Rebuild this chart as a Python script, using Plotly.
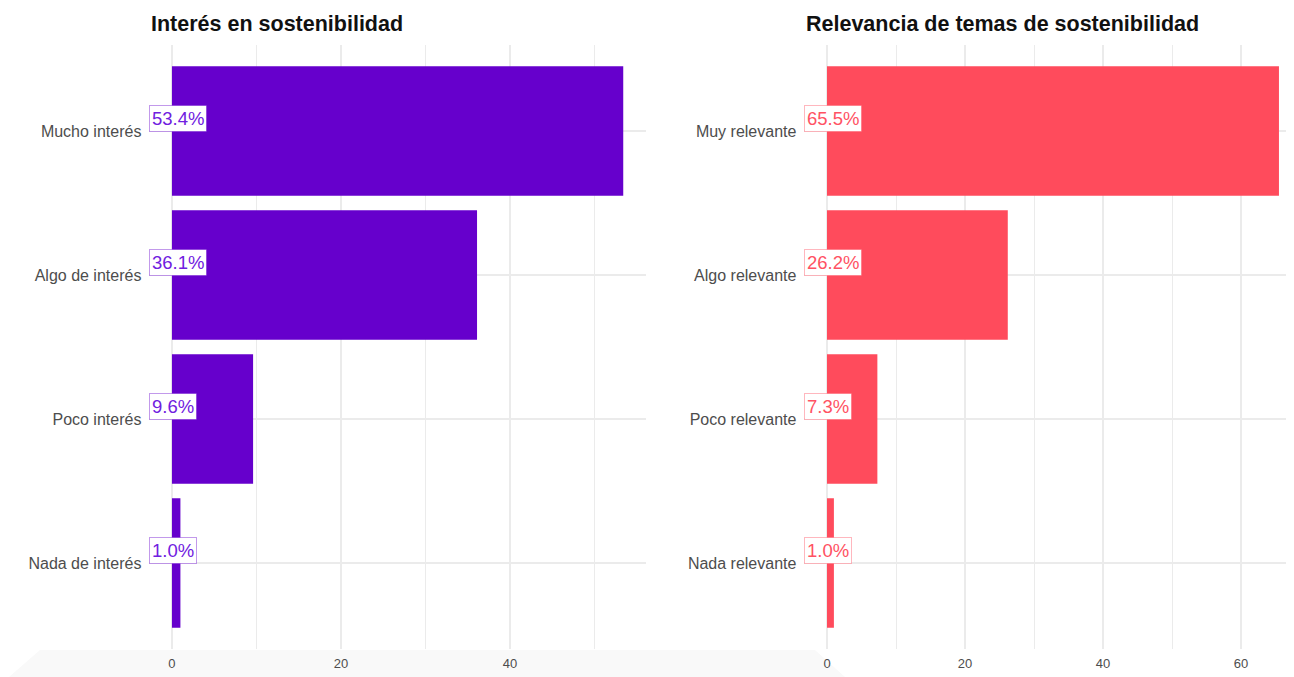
import plotly.graph_objects as go

# Data
cats_left = ["Nada de interés", "Poco interés", "Algo de interés", "Mucho interés"]
vals_left = [1.0, 9.6, 36.1, 53.4]
cats_right = ["Nada relevante", "Poco relevante", "Algo relevante", "Muy relevante"]
vals_right = [1.0, 7.3, 26.2, 65.5]
title_left = "Interés en sostenibilidad"
title_right = "Relevancia de temas de sostenibilidad"

OFF = 8  # page body margin
W, H = 1294 - OFF, 677 - OFF
col_left = "#6600CC"
col_right = "#FF4B5C"

fig = go.Figure()
fig.add_trace(go.Bar(x=vals_left, y=cats_left, orientation="h", marker_color=col_left,
                     marker_line_width=0, width=0.9, xaxis="x", yaxis="y", hoverinfo="x+y"))
fig.add_trace(go.Bar(x=vals_right, y=cats_right, orientation="h", marker_color=col_right,
                     marker_line_width=0, width=0.9, xaxis="x2", yaxis="y2", hoverinfo="x+y"))

def px_x(p):
    return (p - OFF) / W

def px_y(p):
    return 1 - (p - OFF) / H

grid = "#EBEBEB"
common_x = dict(showgrid=True, gridcolor=grid, gridwidth=1.6, zeroline=False,
                minor=dict(showgrid=True, gridcolor=grid, gridwidth=1.0, dtick=10),
                dtick=20, tick0=0, ticks="", showline=False, ticklabelstandoff=5,
                tickfont=dict(family="Liberation Sans, Arial", size=13, color="#4D4D4D"),
                automargin=False, fixedrange=True)
common_y = dict(type="category", showgrid=True, gridcolor=grid, gridwidth=1.6, zeroline=False,
                ticks="", showline=False, range=[-0.6, 3.6], ticklabelstandoff=7,
                tickfont=dict(family="Liberation Sans, Arial", size=16, color="#4D4D4D"),
                automargin=False, fixedrange=True,
                domain=[px_y(649.4), px_y(44.6)])

fig.update_layout(
    width=W, height=H,
    margin=dict(l=0, r=0, t=0, b=0),
    paper_bgcolor="white", plot_bgcolor="white",
    showlegend=False,
    xaxis=dict(**common_x, domain=[px_x(149.4), px_x(645.8)], range=[-2.67, 56.07], anchor="y"),
    yaxis=dict(**common_y, anchor="x"),
    xaxis2=dict(**common_x, domain=[px_x(804.4), 1.0], range=[-3.275, 67.68], anchor="y2"),
    yaxis2=dict(**common_y, anchor="x2"),
    font=dict(family="Liberation Sans, Arial"),
)

annotations = []
annotations.append(dict(text="<b>" + title_left + "</b>", xref="paper", yref="paper",
                        x=px_x(149), y=px_y(24.5), xanchor="left", yanchor="middle",
                        showarrow=False, font=dict(size=21.5, color="#111111")))
annotations.append(dict(text="<b>" + title_right + "</b>", xref="paper", yref="paper",
                        x=px_x(804), y=px_y(24.5), xanchor="left", yanchor="middle",
                        showarrow=False, font=dict(size=21.5, color="#111111")))

for cats, vals, xr, yr, col, bcol in [
    (cats_left, vals_left, "x domain", "y", "#7020E0", "rgba(102,0,204,0.4)"),
    (cats_right, vals_right, "x2 domain", "y2", "#FF5263", "rgba(255,75,92,0.4)"),
]:
    for c, v in zip(cats, vals):
        annotations.append(dict(text=f"{v:.1f}%", xref=xr, yref=yr, x=0, y=c,
                                xanchor="left", yanchor="bottom", yshift=-1,
                                showarrow=False, bgcolor="white", bordercolor=bcol,
                                borderwidth=1, borderpad=2,
                                font=dict(size=18.5, color=col)))

fig.update_layout(annotations=annotations)

# faint grey artifact band at bottom-left
pts = [(9, 677), (40, 650), (815, 650), (845, 677)]
path = "M " + " L ".join(f"{px_x(a):.5f},{px_y(b):.5f}" for a, b in pts) + " Z"
fig.add_shape(type="path", xref="paper", yref="paper", path=path,
              fillcolor="#F9F9F9", line_width=0, layer="below")

fig.write_html("out.html")
